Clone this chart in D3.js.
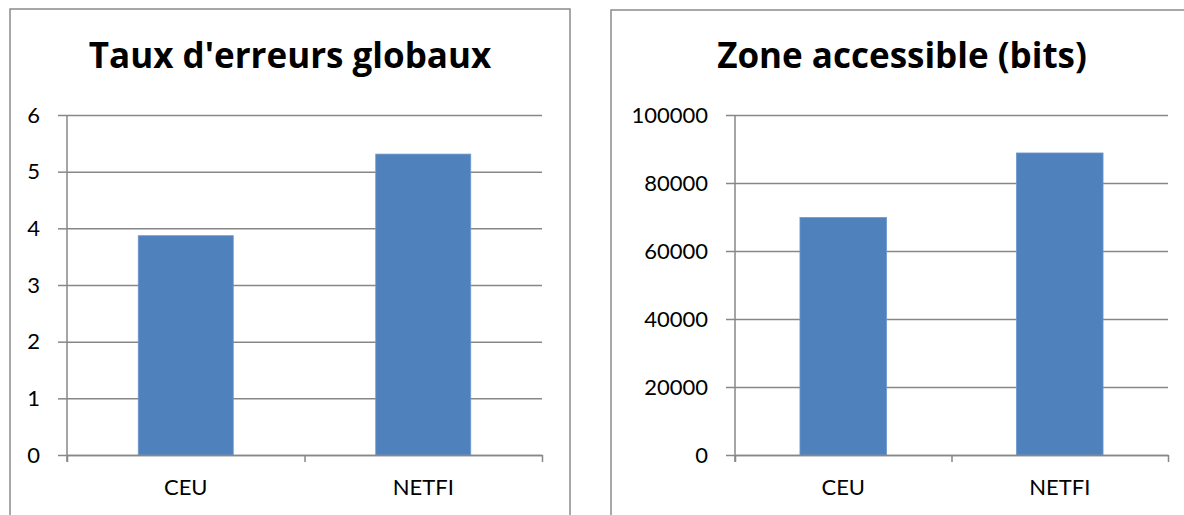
<!DOCTYPE html>
<html>
<head>
<meta charset="utf-8">
<script src="https://cdn.jsdelivr.net/npm/d3@7"></script>
<style>
  body { margin: 0; background: #fff; }
  svg { display: block; font-family: Lato, "DejaVu Sans", sans-serif; }
  .tick text { font-family: Lato, "DejaVu Sans", sans-serif; }
</style>
</head>
<body>
<div class="diagram-canvas"></div>
<script>
const categories = ["CEU", "NETFI"];
const errorRates = [3.87, 5.31];
const accessibleBits = [69850, 88830];
const errorTicks = [0, 1, 2, 3, 4, 5, 6];
const bitsTicks = [0, 20000, 40000, 60000, 80000, 100000];

let width = 1184,
  height = 515;

let gridColor = "#878787",
  barColor = "#4f81bd";

let svg = d3
  .select(".diagram-canvas")
  .append("svg")
  .attr("width", width)
  .attr("height", height);

function drawPanel(opts) {
  let g = svg.append("g");

  // chart frame
  g.append("rect")
    .attr("x", opts.frame[0])
    .attr("y", opts.frame[1])
    .attr("width", opts.frame[2])
    .attr("height", opts.frame[3])
    .attr("fill", "none")
    .attr("stroke", "#8a8a8a")
    .attr("stroke-width", 1.5);

  g.append("text")
    .attr("x", opts.titleX)
    .attr("y", 68)
    .attr("text-anchor", "middle")
    .style("font-family", "'Open Sans', Lato, sans-serif")
    .style("font-size", "35px")
    .style("font-weight", "bold")
    .text(opts.title);

  let xScale = d3
    .scaleBand()
    .domain(categories)
    .range([opts.left, opts.right])
    .paddingInner(0.6)
    .paddingOuter(0.3);

  let yScale = d3
    .scaleLinear()
    .domain([0, d3.max(opts.ticks)])
    .range([opts.bottom, opts.top]);

  // horizontal gridlines
  let grid = g
    .append("g")
    .attr("transform", "translate(" + opts.left + ",0)")
    .call(d3.axisLeft(yScale).tickValues(opts.ticks).tickSize(-(opts.right - opts.left)).tickFormat(""));
  grid.select(".domain").remove();
  grid.selectAll("line").attr("stroke", gridColor).attr("stroke-width", 1.5);

  g.selectAll(".bar")
    .data(opts.values)
    .enter()
    .append("rect")
    .attr("class", "bar")
    .attr("x", (d, i) => xScale(categories[i]))
    .attr("y", (d) => yScale(d))
    .attr("width", xScale.bandwidth())
    .attr("height", (d) => yScale(0) - yScale(d))
    .attr("fill", barColor)
    .attr("stroke", "#6f98cc")
    .attr("stroke-width", 0.8);

  let yAxis = g
    .append("g")
    .attr("transform", "translate(" + opts.left + ",0)")
    .call(d3.axisLeft(yScale).tickValues(opts.ticks).tickFormat(d3.format("d")).tickSize(9).tickPadding(18).tickSizeOuter(0));
  yAxis.select(".domain").attr("stroke", gridColor).attr("stroke-width", 1.5)
    .attr("d", "M0," + opts.top + "V" + (opts.bottom + 7));
  yAxis.selectAll("line").attr("stroke", gridColor).attr("stroke-width", 1.5);
  yAxis.selectAll("text").style("font-size", "22px").attr("fill", "#000");

  // category boundary ticks
  let edgeScale = d3.scaleLinear().domain([0, categories.length]).range([opts.left, opts.right]);
  let xEdges = g
    .append("g")
    .attr("transform", "translate(0," + opts.bottom + ")")
    .call(d3.axisBottom(edgeScale).tickValues(d3.range(categories.length + 1)).tickSize(7).tickSizeOuter(0).tickFormat(""));
  xEdges.selectAll("line").attr("stroke", gridColor).attr("stroke-width", 1.5);
  xEdges.select(".domain").attr("stroke", gridColor).attr("stroke-width", 1.5);

  let xAxis = g
    .append("g")
    .attr("transform", "translate(0," + opts.bottom + ")")
    .call(d3.axisBottom(xScale).tickSize(0).tickPadding(24));
  xAxis.select(".domain").remove();
  xAxis.selectAll("text").style("font-size", "22px").attr("fill", "#000");
}

drawPanel({
  title: "Taux d'erreurs globaux",
  titleX: 290,
  frame: [10, 9, 560, 520],
  left: 67,
  right: 542,
  top: 115,
  bottom: 455,
  values: errorRates,
  ticks: errorTicks,
});

drawPanel({
  title: "Zone accessible (bits)",
  titleX: 902,
  frame: [611, 10, 600, 520],
  left: 735,
  right: 1168,
  top: 115,
  bottom: 455,
  values: accessibleBits,
  ticks: bitsTicks,
});
</script>
</body>
</html>
